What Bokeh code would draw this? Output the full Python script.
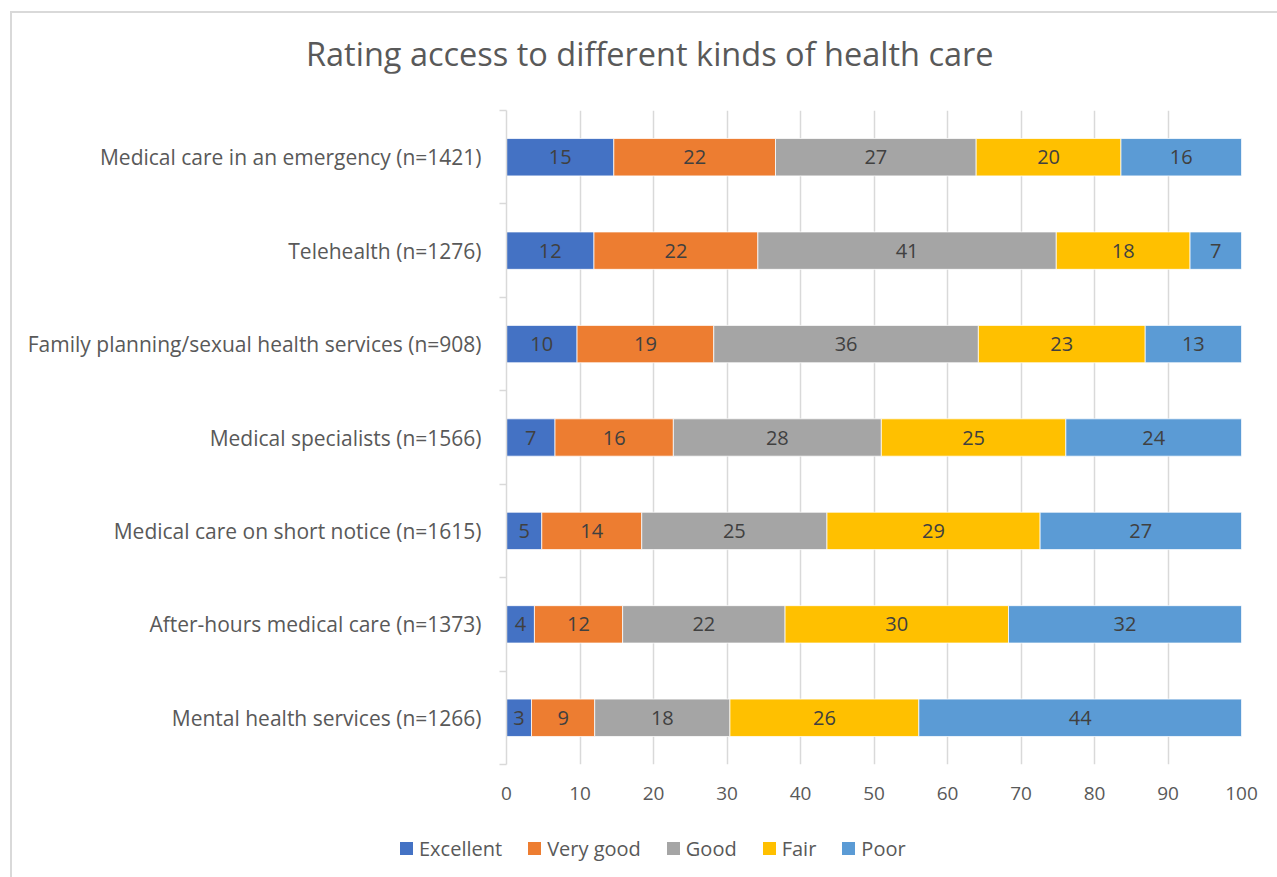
import numpy as np
from bokeh.plotting import figure
from bokeh.layouts import column
from bokeh.models import ColumnDataSource, FixedTicker, Range1d, Div
from bokeh.core.properties import value
from bokeh.embed import file_html
from bokeh.resources import INLINE

title_text = "Rating access to different kinds of health care"
categories = [
    "Medical care in an emergency (n=1421)",
    "Telehealth (n=1276)",
    "Family planning/sexual health services (n=908)",
    "Medical specialists (n=1566)",
    "Medical care on short notice (n=1615)",
    "After-hours medical care (n=1373)",
    "Mental health services (n=1266)",
]
series_names = ["Excellent", "Very good", "Good", "Fair", "Poor"]
excellent = [14.6, 11.9, 9.6, 6.6, 4.8, 3.8, 3.4]
very_good = [22.0, 22.3, 18.6, 16.1, 13.6, 12.0, 8.6]
good = [27.3, 40.6, 36.0, 28.3, 25.2, 22.1, 18.4]
fair = [19.7, 18.2, 22.7, 25.1, 29.0, 30.4, 25.7]
poor = [16.4, 7.0, 13.1, 23.9, 27.4, 31.7, 43.9]
colors = ["#4472C4", "#ED7D31", "#A5A5A5", "#FFC000", "#5B9BD5"]
x_ticks = [0, 10, 20, 30, 40, 50, 60, 70, 80, 90, 100]

FONT = "Open Sans"
TXT = "#595959"
GRID = "#d9d9d9"

n = len(categories)
ypos = [n - i - 0.5 for i in range(n)]
bounds = list(range(n + 1))

# title row (centred over the whole chart, as in the original)
title_div = Div(
    text=(f'<div style="padding-left:294px;padding-top:19px;font-family:\'{FONT}\';'
          f'font-size:32.5px;line-height:44px;color:{TXT};white-space:nowrap;">{title_text}</div>'),
    width=1265, height=60, margin=0)

p = figure(width=1265, height=750, x_range=Range1d(0, 100), y_range=Range1d(0, n),
           output_backend="svg", toolbar_location=None,
           min_border_left=494, min_border_right=36, min_border_top=37, min_border_bottom=59)
p.outline_line_color = None
p.background_fill_color = "white"
p.border_fill_color = "white"

all_series = [excellent, very_good, good, fair, poor]
left = np.zeros(n)
lab_x, lab_y, lab_t = [], [], []
for name, vals, col in zip(series_names, all_series, colors):
    vals = np.array(vals, dtype=float)
    right = left + vals
    src = ColumnDataSource(dict(y=ypos, left=left, right=right))
    p.hbar(y="y", left="left", right="right", height=0.4, source=src,
           fill_color=col, line_color="white", line_width=0.75)
    lab_x += list((left + right) / 2)
    lab_y += ypos
    lab_t += [f"{v:.0f}" for v in vals]
    left = right

lsrc = ColumnDataSource(dict(x=lab_x, y=lab_y, t=lab_t))
p.text(x="x", y="y", text="t", source=lsrc, text_align="center", text_baseline="middle",
       text_font=value(FONT), text_font_size="20px", text_color="#404040")

# x axis
p.xaxis.ticker = FixedTicker(ticks=x_ticks)
p.xaxis.axis_line_color = None
p.xaxis.major_tick_line_color = None
p.xaxis.minor_tick_line_color = None
p.xaxis.major_tick_out = 0
p.xaxis.major_label_standoff = 22
p.xaxis.major_label_text_font = FONT
p.xaxis.major_label_text_font_size = "19px"
p.xaxis.major_label_text_color = TXT

# y axis
p.yaxis.ticker = FixedTicker(ticks=ypos, minor_ticks=bounds)
p.yaxis.major_label_overrides = {y: c for y, c in zip(ypos, categories)}
p.yaxis.axis_line_color = GRID
p.yaxis.axis_line_width = 1.5
p.yaxis.major_tick_line_color = None
p.yaxis.major_tick_out = 0
p.yaxis.major_tick_in = 0
p.yaxis.minor_tick_line_color = GRID
p.yaxis.minor_tick_line_width = 1.5
p.yaxis.minor_tick_out = 7
p.yaxis.minor_tick_in = 0
p.yaxis.major_label_standoff = 18
p.yaxis.major_label_text_font = FONT
p.yaxis.major_label_text_font_size = "21px"
p.yaxis.major_label_text_color = TXT

p.xgrid.ticker = FixedTicker(ticks=x_ticks)
p.xgrid.grid_line_color = GRID
p.xgrid.grid_line_width = 1.5
p.ygrid.grid_line_color = None

# legend row (HTML, centred under the whole chart like the original)
items_html = "".join(
    f'<span style="display:inline-flex;align-items:center;margin-right:26px;">'
    f'<span style="display:inline-block;width:13px;height:13px;background:{c};margin-right:6px;"></span>'
    f'{s}</span>'
    for s, c in zip(series_names, colors))
legend_div = Div(
    text=(f'<div style="padding-left:388px;padding-top:11px;font-family:\'{FONT}\';'
          f'font-size:20px;line-height:27px;color:{TXT};white-space:nowrap;">{items_html}</div>'),
    width=1265, height=54, margin=0)

layout = column(title_div, p, legend_div, spacing=0,
                styles={"margin-left": "10px", "margin-top": "11px",
                        "border-left": "2px solid #d9d9d9", "border-top": "2px solid #d9d9d9"})

open("out.html", "w").write(file_html(layout, INLINE))
